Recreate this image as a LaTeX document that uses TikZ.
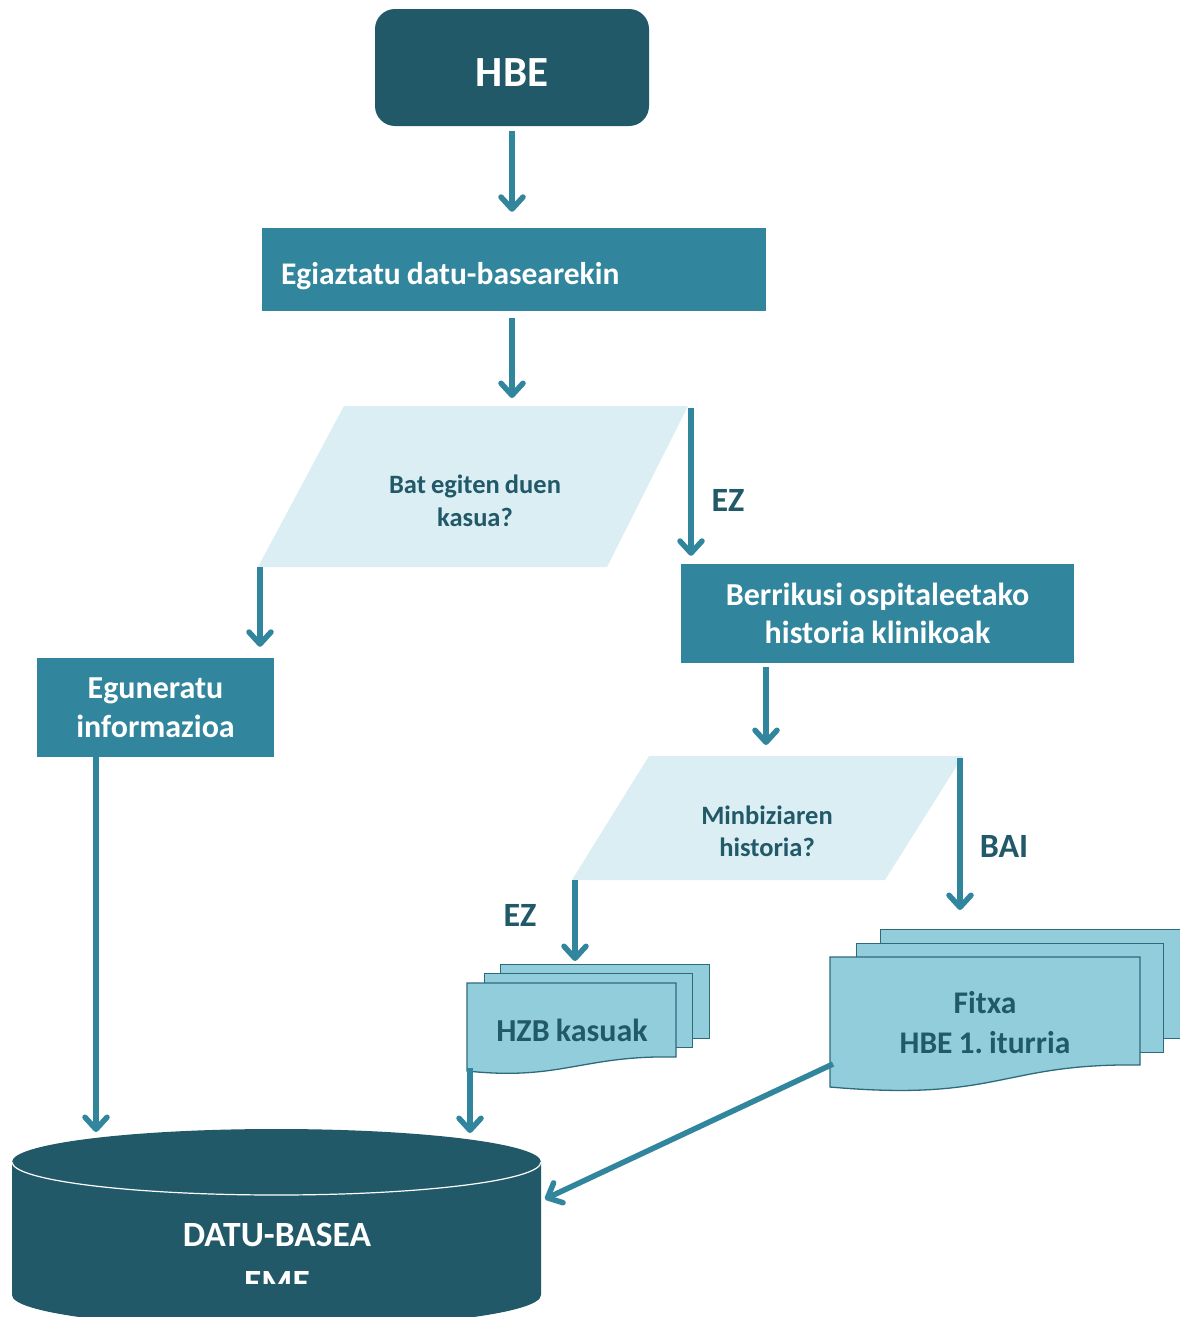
\documentclass[tikz,border=0pt]{standalone}
\usepackage{fontspec}
\setmainfont{Carlito}[WordSpace=0.85]
\usetikzlibrary{arrows.meta}
\definecolor{dark}{HTML}{215968}
\definecolor{mid}{HTML}{31859C}
\definecolor{pale}{HTML}{DAEEF3}
\definecolor{docfill}{HTML}{92CDDC}
\definecolor{docline}{HTML}{2D6A7A}
\newcommand\myfs[2]{\fontsize{#1}{#2}\selectfont}
\frenchspacing
\begin{document}
\begin{tikzpicture}[x=1pt,y=-1pt,
 arr/.style={draw=mid, line width=5.5pt, -{Straight Barb[length=12pt,width=22pt,round]}},
 procbox/.style={fill=mid, text=white, font=\bfseries\myfs{32}{38}, align=center, inner sep=0pt},
 question/.style={text=dark, font=\bfseries\myfs{26.5}{33}, align=center, inner sep=0pt},
 lbl/.style={text=dark, font=\bfseries\myfs{34}{38}, inner sep=0pt},
 sheet/.style={fill=docfill, draw=docline, line width=1.3pt, inner sep=0pt, anchor=north west},
 doctext/.style={text=dark, font=\bfseries\myfs{32}{40}, align=center, inner sep=0pt},
]
\clip (0,0) rectangle (1180,1317);
\fill[white] (0,0) rectangle (1180,1317);

% top box
\node[procbox, fill=dark, rounded corners=20pt, minimum width=274pt, minimum height=117pt,
      font=\bfseries\myfs{43}{50}, text height=37pt, text depth=0pt] (hbe) at (512,67.5) {HBE};

\node[procbox, minimum width=504pt, minimum height=83pt,
      font=\bfseries\myfs{31.5}{38}, text height=29pt, text depth=0pt] (egia) at (514,269.5)
      {\makebox[466pt][l]{Egiaztatu datu-basearekin}};

% decision 1
\path[fill=pale] (344,406) -- (688,406) -- (607,567) -- (258,567) -- cycle;
\node[question] (q1) at (475,501) {Bat egiten duen\\kasua?};
\coordinate (q1top) at (512,406);
\coordinate (q1tr) at (691,406);
\coordinate (q1bl) at (260,567);
\node[lbl] (ez1) at (728,500) {EZ};

\node[procbox, minimum width=393pt, minimum height=99pt] (berr) at (877.5,613.5) {Berrikusi ospitaleetako\\historia klinikoak};
\node[procbox, minimum width=237pt, minimum height=99pt, font=\bfseries\myfs{32}{39}] (egun) at (155.5,707.5) {Eguneratu\\informazioa};

% decision 2
\path[fill=pale] (649,756) -- (963,756) -- (885,880) -- (572,880) -- cycle;
\node[question, font=\bfseries\myfs{26.5}{32}] (q2) at (767,831.5) {Minbiziaren\\historia?};
\coordinate (q2top) at (766,756);
\coordinate (q2tr) at (960,758);
\coordinate (q2bl) at (575,880);
\node[lbl] (bai) at (1004,846) {BAI};
\node[lbl] (ez2) at (520,915) {EZ};

% HZB documents
\node[sheet, minimum width=209pt, minimum height=74pt] (hback) at (500,964) {};
\node[sheet, minimum width=208pt, minimum height=74pt] (hmid) at (484,973) {};
\path[sheet] (467,983) -- (676,983) -- (676,1057)
  .. controls (582,1055) and (561,1081) .. (467,1071) -- cycle;
\node[doctext] (hzb) at (572,1030) {HZB kasuak};
\coordinate (hzbbl) at (470,1068);

% Fitxa documents
\node[sheet, minimum width=310pt, minimum height=109pt] (fback) at (880,929) {};
\node[sheet, minimum width=307pt, minimum height=109pt] (fmid) at (856,943) {};
\path[sheet] (830,957) -- (1140,957) -- (1140,1065)
  .. controls (1000,1063) and (1000,1102) .. (830,1087) -- cycle;
\node[doctext, font=\bfseries\myfs{31.5}{40}] (fitxa) at (985,1023) {Fitxa\\HBE 1. iturria};
\coordinate (fitxabl) at (833,1064);

% database cylinder
\path[fill=dark] (12,1162) -- (12,1295)
  arc[start angle=180, end angle=360, x radius=264.5pt, y radius=33pt]
  -- (541,1162)
  arc[start angle=0, end angle=180, x radius=264.5pt, y radius=33pt] -- cycle;
\draw[white, line width=1.2pt] (12,1162)
  arc[start angle=180, end angle=360, x radius=264.5pt, y radius=33pt];
\begin{scope}
\clip (0,1100) rectangle (1180,1283);
\node[text=white, font=\bfseries\myfs{35.5}{48}, align=center, inner sep=0pt] (dbtext) at (277,1259) {DATU-BASEA\\EME};
\end{scope}
\coordinate (dbA) at (470,1137);
\coordinate (dbB) at (96,1138);
\coordinate (dbC) at (545,1199);

% connectors
\draw[arr, shorten <=5pt, shorten >=16pt] (hbe.south) -- (hbe.south |- egia.north);
\draw[arr, shorten <=7pt, shorten >=8pt] (hbe.south |- egia.south) -- (q1top);
\draw[arr, shorten <=2pt, shorten >=8pt] (q1tr) -- (q1tr |- berr.north);
\draw[arr, shorten >=11pt] (q1bl) -- (q1bl |- egun.north);
\draw[arr, shorten <=4pt, shorten >=11pt] (q2top |- berr.south) -- (q2top);
\draw[arr, shorten >=19pt] (q2tr) -- (q2tr |- fback.north);
\draw[arr, shorten >=3pt] (q2bl) -- (q2bl |- hback.north);
\draw[arr, shorten >=4pt] (hzbbl) -- (dbA);
\draw[arr, shorten >=6pt] (dbB |- egun.south) -- (dbB);
\draw[arr] (fitxabl) -- (dbC);
\end{tikzpicture}
\end{document}
